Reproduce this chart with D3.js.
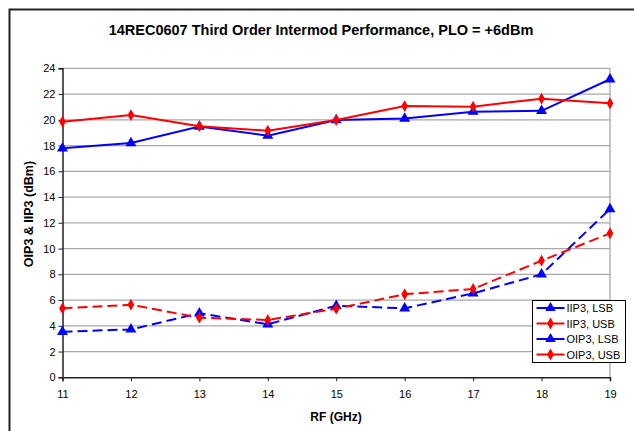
<!DOCTYPE html>
<html><head><meta charset="utf-8">
<script src="https://cdn.jsdelivr.net/npm/d3@7"></script>
<style>body{margin:0;background:#fff;font-family:"Liberation Sans",Arial,sans-serif;}</style>
</head><body>
<svg id="c" width="634" height="431"></svg>
<script>
const freqs = [11,12,13,14,15,16,17,18,19];
const iip3Lsb = [3.54,3.72,4.97,4.12,5.56,5.36,6.52,8.0,13.07];
const iip3Usb = [5.36,5.64,4.63,4.45,5.33,6.45,6.86,9.06,11.18];
const oip3Lsb = [17.79,18.2,19.47,18.77,19.98,20.1,20.63,20.7,23.15];
const oip3Usb = [19.85,20.37,19.5,19.15,19.98,21.07,21.02,21.64,21.28];
const yTicks = [0,2,4,6,8,10,12,14,16,18,20,22,24];
const seriesNames = ["IIP3, LSB","IIP3, USB","OIP3, LSB","OIP3, USB"];

const series = [
  {name:seriesNames[0], vals:iip3Lsb, color:"#0000ff", dash:"10,5", sym:d3.symbolTriangle},
  {name:seriesNames[1], vals:iip3Usb, color:"#ff0000", dash:"10,5", sym:d3.symbolDiamond},
  {name:seriesNames[2], vals:oip3Lsb, color:"#0000ff", dash:null, sym:d3.symbolTriangle},
  {name:seriesNames[3], vals:oip3Usb, color:"#ff0000", dash:null, sym:d3.symbolDiamond}
];

const svg = d3.select("#c");
const L=62.5, R=610, T=68.3, B=377.3;
const x = d3.scaleLinear().domain([11,19]).range([L,R]);
const y = d3.scaleLinear().domain([0,24]).range([B,T]);

// outer chart border
svg.append("rect").attr("x",9.5).attr("y",9.5).attr("width",640).attr("height",440)
  .attr("fill","none").attr("stroke","#222").attr("stroke-width",2);

// title
svg.append("text").attr("x",321).attr("y",35).attr("text-anchor","middle")
  .attr("font-size",14.5).attr("font-weight","bold").text("14REC0607 Third Order Intermod Performance, PLO = +6dBm");

// gridlines
svg.append("g").selectAll("line").data(yTicks.filter(d=>d>0)).join("line")
  .attr("x1",L).attr("x2",R).attr("y1",d=>y(d)).attr("y2",d=>y(d))
  .attr("stroke","#a8a8a8").attr("stroke-width",1.3);
// right plot border
svg.append("line").attr("x1",R).attr("x2",R).attr("y1",T).attr("y2",B)
  .attr("stroke","#a8a8a8").attr("stroke-width",1.3);

// axes
const ya = svg.append("g").attr("transform",`translate(${L},0)`)
  .call(d3.axisLeft(y).tickValues(yTicks).tickSize(4).tickPadding(3));
const xa = svg.append("g").attr("transform",`translate(0,${B})`)
  .call(d3.axisBottom(x).tickValues(freqs).tickSize(4).tickPadding(9).tickFormat(d3.format("d")));
[ya,xa].forEach(g=>{
  g.select(".domain").attr("stroke","#222").attr("stroke-width",1.5);
  g.selectAll(".tick line").attr("stroke","#222");
  g.selectAll("text").attr("font-size",11).attr("fill","#000").attr("font-family","Liberation Sans, Arial, sans-serif");
});

// axis titles
svg.append("text").attr("x",336).attr("y",421).attr("text-anchor","middle")
  .attr("font-size",12).attr("font-weight","bold").text("RF (GHz)");
svg.append("text").attr("transform",`translate(33,214) rotate(-90)`).attr("text-anchor","middle")
  .attr("font-size",12.5).attr("font-weight","bold").text("OIP3 & IIP3 (dBm)");

// lines
const line = d3.line().x((d,i)=>x(freqs[i])).y(d=>y(d));
series.forEach(s=>{
  svg.append("path").attr("d",line(s.vals)).attr("fill","none")
    .attr("stroke",s.color).attr("stroke-width",2).attr("stroke-dasharray",s.dash);
  svg.append("g").selectAll("path").data(s.vals).join("path")
    .attr("transform",(d,i)=>`translate(${x(freqs[i])},${y(d)})`)
    .attr("d",d3.symbol().type(s.sym).size(s.sym===d3.symbolTriangle?52:40))
    .attr("fill",s.color);
});

// legend
const lg = svg.append("g").attr("transform","translate(532.5,300.5)");
lg.append("rect").attr("width",93).attr("height",62).attr("fill","#fff").attr("stroke","#000").attr("stroke-width",1);
series.forEach((s,i)=>{
  const yy = 7.5+i*15.5;
  lg.append("line").attr("x1",4).attr("x2",32).attr("y1",yy).attr("y2",yy)
    .attr("stroke",s.color).attr("stroke-width",2);
  lg.append("path").attr("transform",`translate(18,${yy})`)
    .attr("d",d3.symbol().type(s.sym).size(s.sym===d3.symbolTriangle?48:40)).attr("fill",s.color);
  lg.append("text").attr("x",34).attr("y",yy+4).attr("font-size",11).text(s.name);
});
</script>
</body></html>
